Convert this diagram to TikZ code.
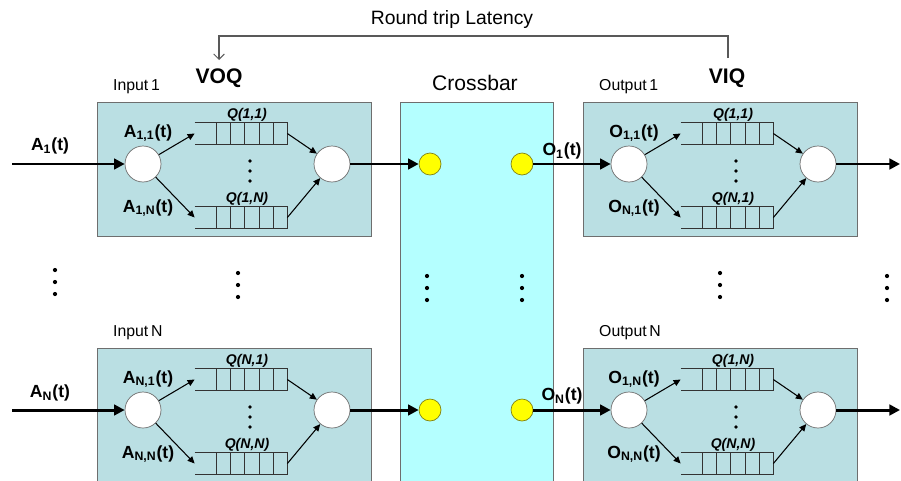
\documentclass[tikz,border=0pt]{standalone}
\usepackage{fontspec}
\setmainfont{Liberation Sans}
\usetikzlibrary{arrows.meta}

\definecolor{portfill}{RGB}{186,223,227}
\definecolor{xbarfill}{RGB}{180,255,255}
\definecolor{edgegray}{RGB}{110,110,110}
\definecolor{portyellow}{RGB}{255,255,0}
\definecolor{portedge}{RGB}{130,130,20}

% one port: box, two switches, two queues, labels
\newcommand{\portblock}[8]{%
\begin{scope}[shift={(#2,#3)}]
\node[portbox] (#1) at (0,0) {};
\node[porttitle] (#1t) at (10,-15) {#4};
\node[switchnode] (#1in) at (46,62) {};
\node[switchnode] (#1out) at (235,62) {};
\node[queuebox] (#1qa) at (144,31.5) {};
\node[queuebox] (#1qb) at (144,115.5) {};
\draw[qline] (#1qa.north west) -- (#1qa.north east) -- (#1qa.south east) -- (#1qa.south west);
\draw[qline] (#1qb.north west) -- (#1qb.north east) -- (#1qb.south east) -- (#1qb.south west);
\foreach \k in {119,133,147,162,176} {
  \draw[qline] (\k,21) -- (\k,42);
  \draw[qline] (\k,105) -- (\k,126);
}
\node[qlabel] (#1qla) at (150,13) {#7};
\node[qlabel] (#1qlb) at (150,97) {#8};
\node[flowlabel] (#1la) at (51,31) {#5};
\node[flowlabel] (#1lb) at (51,106) {#6};
\draw[thinarrow] (#1in) -- (#1qa.west);
\draw[thinarrow] (#1in) -- (#1qb.west);
\draw[thinarrow] (#1qa.east) -- (#1out);
\draw[thinarrow] (#1qb.east) -- (#1out);
\foreach \dy in {59,69,79} \fill (153,\dy) circle (1.1pt);
\end{scope}}

\begin{document}
\begin{tikzpicture}[x=0.02cm,y=-0.02cm,
  portbox/.style={draw=edgegray,fill=portfill,line width=0.8pt,anchor=north west,
    minimum width=5.48cm,minimum height=2.68cm,inner sep=0pt},
  porttitle/.style={anchor=west,font=\fontsize{9}{10}\selectfont},
  switchnode/.style={circle,draw=edgegray,fill=white,minimum size=0.72cm,inner sep=0pt},
  queuebox/.style={minimum width=1.84cm,minimum height=0.42cm,inner sep=0pt},
  qline/.style={draw=black!80,line width=0.5pt},
  qlabel/.style={font=\fontsize{8}{9}\selectfont\bfseries\itshape},
  flowlabel/.style={font=\fontsize{10}{11}\selectfont\bfseries},
  thinarrow/.style={line width=0.6pt,-{Triangle[length=4pt,width=3.6pt]}},
  bigarrow/.style={line width=1.7pt,-{Triangle[length=6pt,width=6pt]}},
  xport/.style={circle,draw=portedge,fill=portyellow,minimum size=0.44cm,inner sep=0pt},
  rtline/.style={draw=black!65,line width=0.6pt,-{Straight Barb[length=3pt,width=6pt]}}]

\clip (0,0) rectangle (901,480);

% crossbar
\node[draw=edgegray,fill=xbarfill,line width=0.8pt,anchor=north west,
  minimum width=3.06cm,minimum height=7.6cm,inner sep=0pt] (xbar) at (400,102) {};
\node[font=\fontsize{12}{14}\selectfont] (xbart) at (475,83) {Crossbar};

% ports
\portblock{inA}{97}{102}{Input\,1}{A\textsubscript{1,1}(t)}{A\textsubscript{1,N}(t)}{Q(1,1)}{Q(1,N)}
\portblock{inN}{97}{348}{Input\,N}{A\textsubscript{N,1}(t)}{A\textsubscript{N,N}(t)}{Q(N,1)}{Q(N,N)}
\portblock{outA}{583}{102}{Output\,1}{O\textsubscript{1,1}(t)}{O\textsubscript{N,1}(t)}{Q(1,1)}{Q(N,1)}
\portblock{outN}{583}{348}{Output\,N}{O\textsubscript{1,N}(t)}{O\textsubscript{N,N}(t)}{Q(1,N)}{Q(N,N)}

% crossbar ports
\node[xport] (xa) at (430,164) {};
\node[xport] (xb) at (522,164) {};
\node[xport] (xc) at (430,410) {};
\node[xport] (xd) at (522,410) {};

% arrivals and departures
\coordinate (enA) at (12,164);
\coordinate (enN) at (12,410);
\coordinate (exA) at (900,164);
\coordinate (exN) at (900,410);
\draw[bigarrow] (enA) -- (inAin);
\draw[bigarrow] (enN) -- (inNin);
\draw[bigarrow] (inAout) -- (xa);
\draw[bigarrow] (inNout) -- (xc);
\draw[bigarrow] (xb) -- (outAin);
\draw[bigarrow] (xd) -- (outNin);
\draw[bigarrow] (outAout) -- (exA);
\draw[bigarrow] (outNout) -- (exN);

\node[flowlabel] (arrA) at (50,146) {A\textsubscript{1}(t)};
\node[flowlabel] (arrN) at (50,393) {A\textsubscript{N}(t)};
\node[flowlabel] (depA) at (562,151) {O\textsubscript{1}(t)};
\node[flowlabel] (depN) at (562,396) {O\textsubscript{N}(t)};

% VOQ / VIQ and round trip
\node[font=\fontsize{12}{14}\selectfont\bfseries] (voq) at (219,78) {VOQ};
\node[font=\fontsize{12}{14}\selectfont\bfseries] (viq) at (727,78) {VIQ};
\node[font=\fontsize{11}{13}\selectfont] (rt) at (452,20) {Round trip Latency};
\coordinate (rtR) at (728,58);
\coordinate (rtL) at (219,60);
\draw[rtline] (rtR) -- ++(0,-22) -| (rtL);

% dots between rows
\foreach \cx/\cy in {55/270,238/273,427/276,522/276,720/273,887/276}
  \foreach \dy in {0,12,24} \fill (\cx,\cy+\dy) circle (1.2pt);

\end{tikzpicture}
\end{document}
